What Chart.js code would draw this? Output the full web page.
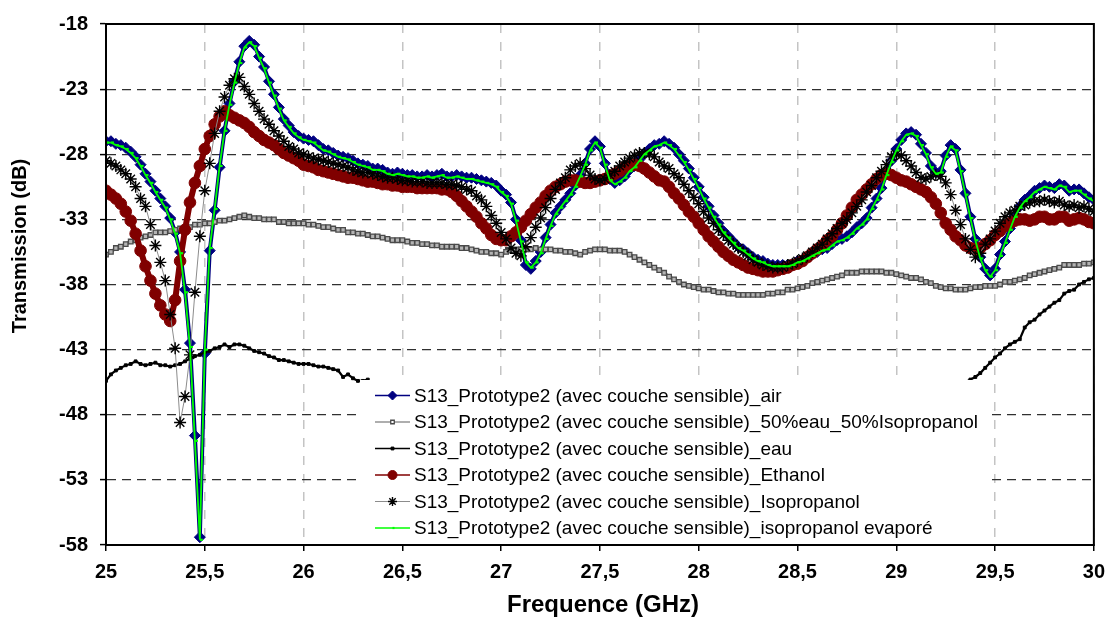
<!DOCTYPE html>
<html>
<head>
<meta charset="utf-8">
<script src="https://cdn.jsdelivr.net/npm/chart.js@4.4.1/dist/chart.umd.min.js"></script>
<style>
  html, body { margin: 0; padding: 0; background: #fff; }
  #wrap { width: 1114px; height: 619px; }
</style>
</head>
<body>
<div id="wrap"><canvas id="c" width="1114" height="619"></canvas></div>
<script>
// S13 transmission measurements, 25 -> 30 GHz, one sample every 0.025 GHz
var freq = [];
for (var i = 0; i <= 200; i++) freq.push(+(25 + i * 0.025).toFixed(3));

var xTicks = [25, 25.5, 26, 26.5, 27, 27.5, 28, 28.5, 29, 29.5, 30];
var yTicks = [-58, -53, -48, -43, -38, -33, -28, -23, -18];

var seriesNames = [
    'S13_Prototype2 (avec couche sensible)_air',
    'S13_Prototype2 (avec couche sensible)_50%eau_50%Isopropanol',
    'S13_Prototype2 (avec couche sensible)_eau',
    'S13_Prototype2 (avec couche sensible)_Ethanol',
    'S13_Prototype2 (avec couche sensible)_Isopropanol',
    'S13_Prototype2 (avec couche sensible)_isopropanol evaporé'
];

var air = [
    -27.0,-27.0,-27.2,-27.3,-27.5,-27.8,-28.2,-28.8,-29.5,-30.1,-30.8,-31.4,-32.0,-32.9,-34.0,-35.5,-38.4,-42.5,-49.6,-57.4,
    -43.3,-35.4,-32.3,-29.0,-26.2,-24.1,-22.4,-20.9,-19.7,-19.3,-19.6,-20.5,-21.3,-22.4,-23.4,-24.4,-25.3,-25.8,-26.3,-26.6,
    -26.8,-26.9,-27.0,-27.3,-27.6,-27.7,-27.9,-28.1,-28.2,-28.3,-28.5,-28.7,-28.8,-28.9,-29.1,-29.1,-29.2,-29.4,-29.5,-29.4,
    -29.5,-29.6,-29.6,-29.7,-29.7,-29.6,-29.7,-29.6,-29.5,-29.7,-29.7,-29.6,-29.7,-29.8,-29.8,-29.9,-30.0,-30.1,-30.2,-30.4,
    -30.8,-31.1,-31.7,-33.0,-34.6,-36.5,-36.8,-36.2,-35.5,-34.4,-33.4,-32.5,-32.0,-31.5,-31.0,-30.4,-29.6,-28.7,-27.6,-27.0,
    -27.4,-28.7,-29.9,-30.2,-30.0,-29.7,-29.2,-28.9,-28.4,-27.9,-27.6,-27.3,-27.2,-27.0,-27.2,-27.5,-28.0,-28.5,-29.1,-29.8,
    -30.5,-31.3,-32.0,-32.7,-33.3,-33.9,-34.3,-34.7,-35.1,-35.3,-35.6,-35.9,-36.1,-36.2,-36.4,-36.5,-36.5,-36.5,-36.5,-36.4,
    -36.2,-36.1,-35.9,-35.7,-35.5,-35.3,-35.2,-34.9,-34.6,-34.5,-34.3,-34.0,-33.6,-33.3,-32.9,-32.1,-31.4,-30.6,-29.5,-28.5,
    -27.6,-26.9,-26.4,-26.3,-26.5,-27.2,-27.9,-28.9,-29.4,-29.3,-28.1,-27.3,-27.6,-29.2,-31.0,-32.8,-34.5,-35.9,-36.8,-37.3,
    -36.8,-35.7,-34.7,-33.7,-32.7,-32.0,-31.5,-31.2,-30.8,-30.6,-30.4,-30.5,-30.6,-30.3,-30.4,-30.8,-30.7,-30.7,-31.0,-31.3,
    -31.5
];

var eauIso50 = [
    -35.7,-35.5,-35.2,-35.1,-34.9,-34.7,-34.6,-34.4,-34.3,-34.2,-34.0,-34.0,-34.0,-33.9,-33.8,-33.7,-33.6,-33.6,-33.4,-33.4,
    -33.3,-33.3,-33.2,-33.1,-33.1,-33.0,-32.9,-32.8,-32.7,-32.8,-32.9,-32.9,-33.0,-33.0,-33.0,-33.2,-33.2,-33.3,-33.3,-33.3,
    -33.3,-33.4,-33.4,-33.5,-33.6,-33.6,-33.7,-33.8,-33.8,-34.0,-34.0,-34.1,-34.1,-34.2,-34.3,-34.3,-34.4,-34.5,-34.6,-34.6,
    -34.6,-34.7,-34.8,-34.8,-34.9,-34.9,-35.0,-35.0,-35.1,-35.1,-35.1,-35.1,-35.2,-35.2,-35.3,-35.4,-35.5,-35.5,-35.6,-35.6,
    -35.7,-35.5,-35.4,-35.3,-35.3,-35.3,-35.3,-35.2,-35.3,-35.3,-35.3,-35.4,-35.4,-35.5,-35.5,-35.6,-35.7,-35.5,-35.4,-35.3,
    -35.3,-35.3,-35.4,-35.4,-35.4,-35.5,-35.7,-35.9,-36.1,-36.3,-36.5,-36.7,-36.9,-37.1,-37.4,-37.6,-37.8,-38.0,-38.1,-38.2,
    -38.3,-38.4,-38.4,-38.5,-38.6,-38.6,-38.7,-38.7,-38.8,-38.8,-38.8,-38.8,-38.8,-38.8,-38.7,-38.7,-38.6,-38.6,-38.4,-38.4,
    -38.3,-38.2,-38.1,-37.9,-37.8,-37.7,-37.6,-37.5,-37.4,-37.3,-37.1,-37.1,-37.1,-37.0,-37.0,-37.0,-37.0,-37.0,-37.1,-37.1,
    -37.2,-37.3,-37.4,-37.5,-37.5,-37.6,-37.8,-37.9,-38.1,-38.2,-38.3,-38.3,-38.4,-38.4,-38.4,-38.3,-38.2,-38.2,-38.1,-38.1,
    -38.1,-38.0,-37.8,-37.8,-37.7,-37.6,-37.5,-37.3,-37.2,-37.1,-37.0,-36.9,-36.8,-36.7,-36.5,-36.5,-36.5,-36.5,-36.4,-36.4,
    -36.3
];

// eau drops below -58 dB between 26.35 and 29.325 GHz: two visible pieces
var eauLow = [   // 25.000 -> 26.325
    -45.4,-44.9,-44.6,-44.4,-44.2,-44.1,-43.9,-44.1,-44.2,-44.1,-44.0,-44.2,-44.2,-44.3,-44.2,-44.1,-43.9,-43.7,-43.5,-43.4,
    -43.2,-43.1,-42.9,-42.8,-42.6,-42.8,-42.6,-42.6,-42.7,-42.9,-43.1,-43.2,-43.3,-43.5,-43.6,-43.8,-43.8,-43.9,-44.0,-44.1,
    -44.1,-44.1,-44.2,-44.3,-44.3,-44.4,-44.5,-44.6,-45.1,-44.9,-45.2,-45.4,-45.4,-45.3
];
var eauHigh = [  // 29.350 -> 30.000
    -45.5,-45.3,-45.1,-44.8,-44.4,-44.0,-43.6,-43.3,-42.9,-42.6,-42.4,-42.2,-41.3,-40.9,-40.7,-40.3,-40.0,-39.7,-39.4,-39.2,
    -38.7,-38.5,-38.4,-38.0,-37.8,-37.6,-37.5
];

var ethanol = [
    -30.8,-31.1,-31.4,-31.8,-32.4,-33.1,-34.1,-35.4,-36.6,-37.7,-38.7,-39.6,-40.3,-40.8,-39.2,-36.2,-33.8,-31.7,-30.2,-28.9,
    -27.6,-26.6,-25.7,-25.1,-24.7,-25.0,-25.2,-25.4,-25.6,-25.9,-26.3,-26.6,-26.9,-27.1,-27.3,-27.6,-27.9,-28.1,-28.3,-28.5,
    -28.8,-28.9,-29.0,-29.2,-29.3,-29.4,-29.5,-29.6,-29.7,-29.8,-29.8,-29.9,-30.0,-30.1,-30.1,-30.2,-30.3,-30.3,-30.4,-30.4,
    -30.5,-30.5,-30.5,-30.6,-30.6,-30.6,-30.6,-30.6,-30.7,-30.7,-30.9,-31.2,-31.6,-32.0,-32.4,-32.8,-33.3,-33.7,-34.2,-34.5,
    -34.6,-34.6,-34.3,-34.0,-33.6,-33.1,-32.6,-32.1,-31.7,-31.2,-30.8,-30.5,-30.3,-30.1,-30.0,-30.0,-30.1,-30.2,-30.2,-30.1,
    -30.0,-29.9,-29.7,-29.5,-29.3,-29.0,-28.9,-28.8,-28.9,-29.1,-29.4,-29.7,-30.0,-30.1,-30.5,-31.0,-31.4,-31.9,-32.4,-32.8,
    -33.3,-33.8,-34.3,-34.7,-35.1,-35.5,-35.8,-36.1,-36.3,-36.5,-36.7,-36.8,-36.9,-37.0,-37.0,-37.0,-36.9,-36.8,-36.7,-36.5,
    -36.4,-36.2,-35.9,-35.6,-35.3,-35.0,-34.6,-34.3,-33.8,-33.3,-32.7,-32.1,-31.5,-31.1,-30.7,-30.3,-29.9,-29.6,-29.5,-29.6,
    -29.8,-30.0,-30.1,-30.3,-30.5,-30.7,-30.9,-31.3,-31.8,-32.5,-33.3,-33.8,-34.3,-34.6,-35.0,-35.2,-35.3,-35.2,-34.9,-34.6,
    -34.2,-33.9,-33.5,-33.3,-33.1,-33.0,-33.0,-33.1,-33.0,-32.8,-32.8,-33.0,-33.0,-32.8,-32.8,-33.1,-33.0,-32.9,-33.0,-33.2,
    -33.3
];

var isopropanol = [
    -28.5,-28.7,-28.9,-29.2,-29.5,-29.9,-30.5,-31.4,-32.0,-33.4,-35.0,-36.3,-37.7,-40.3,-42.9,-48.6,-46.6,-43.4,-38.6,-34.3,
    -30.8,-28.7,-26.4,-24.7,-23.6,-22.7,-22.2,-22.1,-22.8,-23.4,-24.1,-24.7,-25.3,-25.7,-26.2,-26.6,-27.0,-27.4,-27.6,-27.9,
    -28.0,-28.2,-28.3,-28.4,-28.5,-28.6,-28.7,-28.8,-28.9,-29.0,-29.2,-29.3,-29.4,-29.4,-29.5,-29.6,-29.7,-29.8,-29.8,-29.9,
    -30.0,-30.0,-30.1,-30.1,-30.1,-30.2,-30.2,-30.2,-30.2,-30.3,-30.3,-30.4,-30.5,-30.7,-30.8,-31.2,-31.5,-32.0,-32.7,-33.3,
    -34.0,-34.5,-35.2,-35.6,-35.8,-35.1,-34.4,-33.6,-32.9,-32.1,-31.4,-30.7,-30.2,-29.8,-29.2,-28.9,-28.7,-29.1,-29.6,-29.9,
    -30.0,-29.9,-29.6,-29.3,-28.9,-28.6,-28.3,-28.1,-27.9,-27.9,-28.0,-28.2,-28.6,-28.9,-29.1,-29.5,-29.8,-30.3,-30.8,-31.3,
    -31.8,-32.4,-32.9,-33.3,-33.8,-34.2,-34.6,-34.9,-35.2,-35.5,-35.8,-36.1,-36.3,-36.5,-36.6,-36.7,-36.7,-36.7,-36.5,-36.4,
    -36.2,-36.0,-35.8,-35.5,-35.2,-34.9,-34.5,-34.1,-33.7,-33.3,-33.0,-32.5,-32.0,-31.5,-30.9,-30.4,-29.8,-29.3,-28.8,-28.2,
    -28.0,-28.1,-28.5,-28.9,-29.4,-29.8,-29.9,-29.7,-29.6,-29.7,-30.2,-31.1,-32.3,-33.4,-34.5,-35.3,-35.9,-35.6,-34.9,-34.5,
    -33.9,-33.3,-32.8,-32.5,-32.3,-32.0,-31.9,-31.7,-31.6,-31.6,-31.5,-31.6,-31.7,-31.6,-31.9,-32.0,-31.9,-32.1,-32.0,-32.2,
    -32.4
];

var isoEvapore = [
    -27.1,-27.1,-27.3,-27.4,-27.6,-27.9,-28.3,-28.9,-29.6,-30.2,-30.9,-31.5,-32.1,-33.0,-34.1,-35.6,-38.6,-42.8,-50.0,-57.6,
    -43.0,-35.2,-32.2,-28.9,-26.2,-24.2,-22.5,-21.0,-19.8,-19.4,-19.7,-20.6,-21.4,-22.5,-23.5,-24.5,-25.4,-25.9,-26.4,-26.7,
    -26.9,-27.0,-27.1,-27.4,-27.7,-27.8,-28.0,-28.2,-28.3,-28.4,-28.6,-28.8,-28.9,-29.0,-29.2,-29.2,-29.3,-29.5,-29.6,-29.5,
    -29.6,-29.7,-29.7,-29.8,-29.8,-29.7,-29.8,-29.7,-29.6,-29.8,-29.8,-29.7,-29.8,-29.9,-29.9,-30.0,-30.1,-30.2,-30.3,-30.5,
    -30.9,-31.2,-31.8,-33.1,-34.7,-36.3,-36.7,-36.3,-35.6,-34.5,-33.5,-32.6,-32.1,-31.6,-31.1,-30.5,-29.7,-28.8,-27.7,-27.1,
    -27.5,-28.8,-30.0,-30.3,-30.1,-29.8,-29.3,-29.0,-28.5,-28.0,-27.7,-27.4,-27.3,-27.1,-27.3,-27.6,-28.1,-28.6,-29.2,-29.9,
    -30.6,-31.4,-32.1,-32.8,-33.4,-34.0,-34.4,-34.8,-35.2,-35.4,-35.7,-36.0,-36.2,-36.3,-36.5,-36.6,-36.6,-36.6,-36.6,-36.5,
    -36.3,-36.2,-36.0,-35.8,-35.6,-35.4,-35.3,-35.0,-34.7,-34.6,-34.4,-34.1,-33.7,-33.4,-33.0,-32.2,-31.5,-30.7,-29.6,-28.6,
    -27.7,-27.0,-26.5,-26.4,-26.6,-27.3,-28.0,-29.0,-29.5,-29.4,-28.2,-27.4,-27.7,-29.3,-31.1,-32.9,-34.6,-36.0,-36.9,-37.4,
    -36.9,-35.8,-34.8,-33.8,-32.8,-32.1,-31.6,-31.3,-30.9,-30.7,-30.5,-30.6,-30.7,-30.4,-30.5,-30.9,-30.8,-30.8,-31.1,-31.4,
    -31.6
];

var FONT = '"Liberation Sans", Arial, sans-serif';

function toPoints(values) {
    return freq.map(function (f, i) {
        var v = values[i];
        return { x: f, y: (v === undefined ? null : v) };
    });
}

var eauPoints = freq.map(function (f, i) {
    var v = null;
    if (i < eauLow.length) v = eauLow[i];
    if (i >= 174) v = eauHigh[i - 174];
    return { x: f, y: (v === undefined ? null : v) };
});

// legend swatch styles (line width / marker size in the legend)
var legendLine = [1.5, 1.2, 1.5, 1.5, 1.2, 1.5];
var legendRadius = [4.5, 2.5, 2, 4.5, 4.5, 2];

var datasets = [
    { label: seriesNames[0], data: toPoints(air), order: 6,
      borderColor: '#000080', borderWidth: 4,
      pointStyle: 'rectRot', pointRadius: 5.5, pointBackgroundColor: '#000080', pointBorderColor: '#000080', pointBorderWidth: 1 },
    { label: seriesNames[1], data: toPoints(eauIso50), order: 5,
      borderColor: '#5e5e5e', borderWidth: 3,
      pointStyle: 'rect', pointRadius: 3.2, pointBackgroundColor: '#b4b4b4', pointBorderColor: '#4a4a4a', pointBorderWidth: 1.3 },
    { label: seriesNames[2], data: eauPoints, order: 4,
      borderColor: '#000000', borderWidth: 2.2,
      pointStyle: 'rect', pointRadius: 2, pointBackgroundColor: '#000000', pointBorderColor: '#000000', pointBorderWidth: 1 },
    { label: seriesNames[3], data: toPoints(ethanol), order: 3,
      borderColor: '#800000', borderWidth: 6,
      pointStyle: 'circle', pointRadius: 5.8, pointBackgroundColor: '#800000', pointBorderColor: '#800000', pointBorderWidth: 1 },
    { label: seriesNames[4], data: toPoints(isopropanol), order: 2,
      borderColor: '#8c8c8c', borderWidth: 1,
      pointStyle: 'star', pointRadius: 6, pointBackgroundColor: '#000000', pointBorderColor: '#000000', pointBorderWidth: 1.4 },
    { label: seriesNames[5], data: toPoints(isoEvapore), order: 1,
      borderColor: '#00ff00', borderWidth: 1.8,
      pointStyle: 'dash', pointRadius: 3, pointBackgroundColor: '#00ff00', pointBorderColor: '#00ff00', pointBorderWidth: 2.2 }
];

// frame, legend box and axis titles
var decor = {
    id: 'decor',
    afterDatasetsDraw: function (chart) {
        var ctx = chart.ctx, a = chart.chartArea;
        ctx.save();

        // legend sits inside the plot, on a white box
        var lx = 360, ly = 380, lw = 632, lh = a.bottom - 381;
        ctx.fillStyle = '#fff';
        ctx.fillRect(lx, ly, lw, lh);

        var rowY = 395.5, step = 26.5;
        chart.data.datasets.forEach(function (ds, k) {
            var y = rowY + k * step;
            ctx.strokeStyle = k === 4 ? '#8c8c8c' : ds.borderColor;
            ctx.lineWidth = legendLine[k];
            ctx.setLineDash([]);
            ctx.beginPath();
            ctx.moveTo(375, y);
            ctx.lineTo(410, y);
            ctx.stroke();
            if (Chart.helpers && Chart.helpers.drawPoint) {
                ctx.fillStyle = k === 1 ? '#ffffff' : ds.pointBackgroundColor;
                ctx.strokeStyle = ds.pointBorderColor;
                ctx.lineWidth = ds.pointBorderWidth;
                Chart.helpers.drawPoint(ctx, {
                    pointStyle: ds.pointStyle,
                    radius: legendRadius[k],
                    borderWidth: ds.pointBorderWidth,
                    rotation: 0
                }, 392.5, y);
            }
            ctx.fillStyle = '#000';
            ctx.font = '19px ' + FONT;
            ctx.textAlign = 'left';
            ctx.textBaseline = 'middle';
            ctx.fillText(ds.label, 414, y + 1);
        });

        // plot frame
        ctx.strokeStyle = '#000';
        ctx.lineWidth = 2;
        ctx.strokeRect(a.left, a.top, a.right - a.left, a.bottom - a.top);

        // axis titles
        ctx.fillStyle = '#000';
        ctx.font = 'bold 24px ' + FONT;
        ctx.textAlign = 'center';
        ctx.textBaseline = 'middle';
        ctx.fillText('Frequence (GHz)', 603, 605);

        ctx.translate(20, 246);
        ctx.rotate(-Math.PI / 2);
        ctx.font = 'bold 20px ' + FONT;
        ctx.fillText('Transmission (dB)', 0, 0);
        ctx.restore();
    }
};

new Chart(document.getElementById('c'), {
    type: 'line',
    data: { datasets: datasets },
    options: {
        responsive: false,
        animation: false,
        events: [],
        spanGaps: false,
        layout: { padding: { top: 20, right: 18, left: 0, bottom: 0 } },
        plugins: { legend: { display: false }, tooltip: { enabled: false } },
        scales: {
            x: {
                type: 'linear', min: 25, max: 30,
                afterBuildTicks: function (s) { s.ticks = xTicks.map(function (v) { return { value: v }; }); },
                ticks: {
                    autoSkip: false, maxRotation: 0, padding: 9, color: '#000',
                    font: { family: FONT, size: 20, weight: 'bold' },
                    callback: function (v) { return String(v).replace('.', ','); }
                },
                grid: { color: '#c4c4c4', lineWidth: 1.5, tickLength: 6, tickColor: '#000', tickWidth: 1.5, tickBorderDash: [] },
                border: { display: true, color: '#000', width: 2, dash: [9, 9] },
                afterFit: function (s) { s.height = 74; }
            },
            y: {
                min: -58, max: -18,
                afterBuildTicks: function (s) { s.ticks = yTicks.map(function (v) { return { value: v }; }); },
                ticks: {
                    padding: 12, color: '#000',
                    font: { family: FONT, size: 20, weight: 'bold' }
                },
                grid: { color: '#303030', lineWidth: 1.2, tickLength: 6, tickColor: '#000', tickWidth: 1.5, tickBorderDash: [] },
                border: { display: true, color: '#000', width: 2, dash: [9, 6] },
                afterFit: function (s) { s.width = 106; }
            }
        }
    },
    plugins: [decor]
});
</script>
</body>
</html>
